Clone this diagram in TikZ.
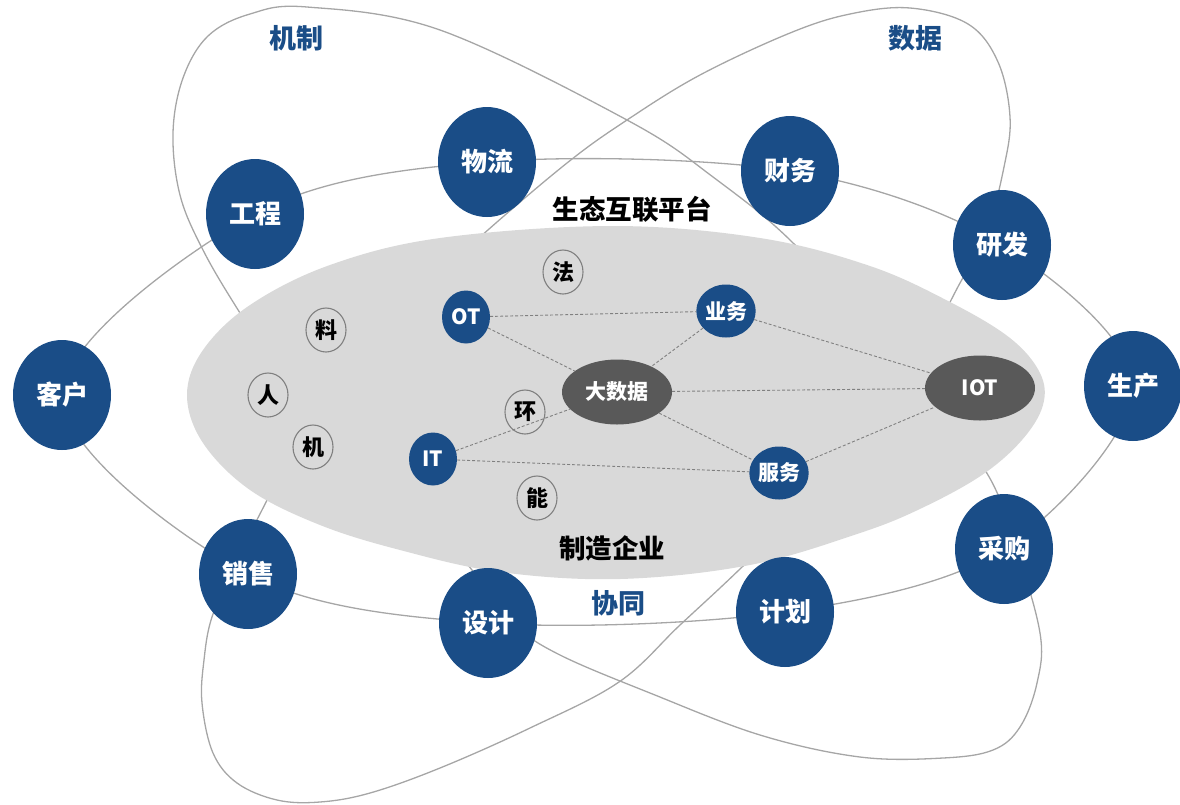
\documentclass[tikz,border=0pt]{standalone}
\usepackage{fontspec}
\setmainfont{Noto Sans CJK SC}
\usetikzlibrary{shapes.geometric}
\definecolor{nblue}{HTML}{1A4D87}
\definecolor{dgray}{HTML}{595959}
\definecolor{lgray}{HTML}{D9D9D9}
\definecolor{orbitc}{HTML}{A6A6A6}
\definecolor{dashc}{HTML}{808080}
\tikzset{
  orbitline/.style={draw=orbitc, line width=1.3pt},
  bignode/.style={ellipse, fill=nblue, text=white, minimum width=98pt, minimum height=110pt, inner sep=0pt, font=\fontsize{26}{26}\selectfont\bfseries},
  smallnode/.style={ellipse, fill=nblue, text=white, minimum width=48pt, minimum height=53pt, inner sep=0pt, font=\fontsize{21}{21}\selectfont\bfseries},
  hubnode/.style={ellipse, fill=dgray, text=white, minimum width=110pt, minimum height=65pt, inner sep=0pt, font=\fontsize{21}{21}\selectfont\bfseries},
  factor/.style={ellipse, draw=dashc, line width=1.1pt, minimum width=40pt, minimum height=44pt, inner sep=0pt, font=\fontsize{22}{22}\selectfont\bfseries},
  link/.style={draw=dashc, line width=0.9pt, dash pattern=on 3pt off 2pt},
  bluelabel/.style={text=nblue, font=\fontsize{27}{27}\selectfont\bfseries},
  blacklabel/.style={text=black, font=\fontsize{26.5}{26.5}\selectfont\bfseries},
}
\begin{document}
\begin{tikzpicture}[x=1pt,y=-1pt]
\useasboundingbox (0,0) rectangle (1180,804);
% positions of the outer nodes (used by orbit C)
\coordinate (pKehu) at (62,395);
\coordinate (pGongcheng) at (255,214);
\coordinate (pWuliu) at (487,162);
\coordinate (pCaiwu) at (790,171);
\coordinate (pYanfa) at (1002,245);
\coordinate (pShengchan) at (1133,386);
\coordinate (pCaigou) at (1004,549);
\coordinate (pJihua) at (785,612);
\coordinate (pSheji) at (488,623);
\coordinate (pXiaoshou) at (248,574);
% orbit A (机制)
\draw[orbitline] plot[smooth cycle, tension=0.6] coordinates {(307,7) (440,30) (627,120) (713,177) (800,250) (900,370) (983,467) (1015,545) (1040,633) (1037,683) (1020,727) (993,750) (943,758) (860,757) (760,735) (650,693) (560,655) (515,625) (480,580) (435,527) (370,470) (300,405) (240,313) (203,250) (180,195) (173,133) (183,78) (208,36) (250,14)};
% orbit B (数据)
\draw[orbitline] plot[smooth cycle, tension=0.6] coordinates {(910,8) (968,24) (998,62) (1010,117) (1004,167) (985,240) (960,283) (900,395) (830,480) (741,568) (680,625) (619,682) (530,728) (440,768) (370,793) (320,802) (277,800) (237,783) (213,753) (202,703) (204,660) (212,617) (235,565) (262,510) (310,420) (390,320) (480,237) (567,163) (627,120) (700,75) (790,33) (850,14)};
% orbit C (协同)
\draw[orbitline] plot[smooth cycle, tension=0.55] coordinates {(pKehu) (pGongcheng) (pWuliu) (pCaiwu) (pYanfa) (pShengchan) (pCaigou) (pJihua) (pSheji) (pXiaoshou)};
% central platform
\fill[lgray] plot[smooth cycle, tension=0.6] coordinates {(187,395) (203,350) (250,305) (330,265) (440,238) (613,226) (760,238) (870,266) (950,302) (1010,338) (1040,373) (1043,405) (1022,440) (982,475) (922,508) (860,533) (750,565) (620,579) (500,572) (400,550) (320,525) (250,490) (203,443)};
% inner nodes
\node[smallnode] (ot) at (466,317) {OT};
\node[smallnode] (it) at (433,459) {IT};
\node[smallnode] (yewu) at (726,311) {业务};
\node[smallnode] (fuwu) at (779,473) {服务};
\node[hubnode] (dsj) at (617,392) {大数据};
\node[hubnode] (iot) at (980,388) {IOT};
% dashed links
\draw[link] (ot) -- (yewu);
\draw[link] (ot) -- (dsj);
\draw[link] (yewu) -- (dsj);
\draw[link] (yewu) -- (iot);
\draw[link] (dsj) -- (iot);
\draw[link] (dsj) -- (fuwu);
\draw[link] (fuwu) -- (iot);
\draw[link] (it) -- (fuwu);
\draw[link] (it) -- (dsj);
% factors
\node[factor] (fa) at (563,272) {法};
\node[factor] (liao) at (326,330) {料};
\node[factor] (ren) at (268,395) {人};
\node[factor] (ji) at (313,447) {机};
\node[factor] (huan) at (525,412) {环};
\node[factor] (neng) at (537,498) {能};
% outer nodes
\node[bignode] (kehu) at (pKehu) {客户};
\node[bignode] (gongcheng) at (pGongcheng) {工程};
\node[bignode] (wuliu) at (pWuliu) {物流};
\node[bignode] (caiwu) at (pCaiwu) {财务};
\node[bignode] (yanfa) at (pYanfa) {研发};
\node[bignode] (shengchan) at (pShengchan) {生产};
\node[bignode] (caigou) at (pCaigou) {采购};
\node[bignode] (jihua) at (pJihua) {计划};
\node[bignode] (sheji) at (pSheji) {设计};
\node[bignode] (xiaoshou) at (pXiaoshou) {销售};
% labels
\node[blacklabel] (ptf) at (632,209) {生态互联平台};
\node[blacklabel] (zzqy) at (612,548) {制造企业};
\node[bluelabel] (jz) at (296,38) {机制};
\node[bluelabel] (sj) at (915,38) {数据};
\node[bluelabel] (xt) at (618,603) {协同};
\end{tikzpicture}
\end{document}
